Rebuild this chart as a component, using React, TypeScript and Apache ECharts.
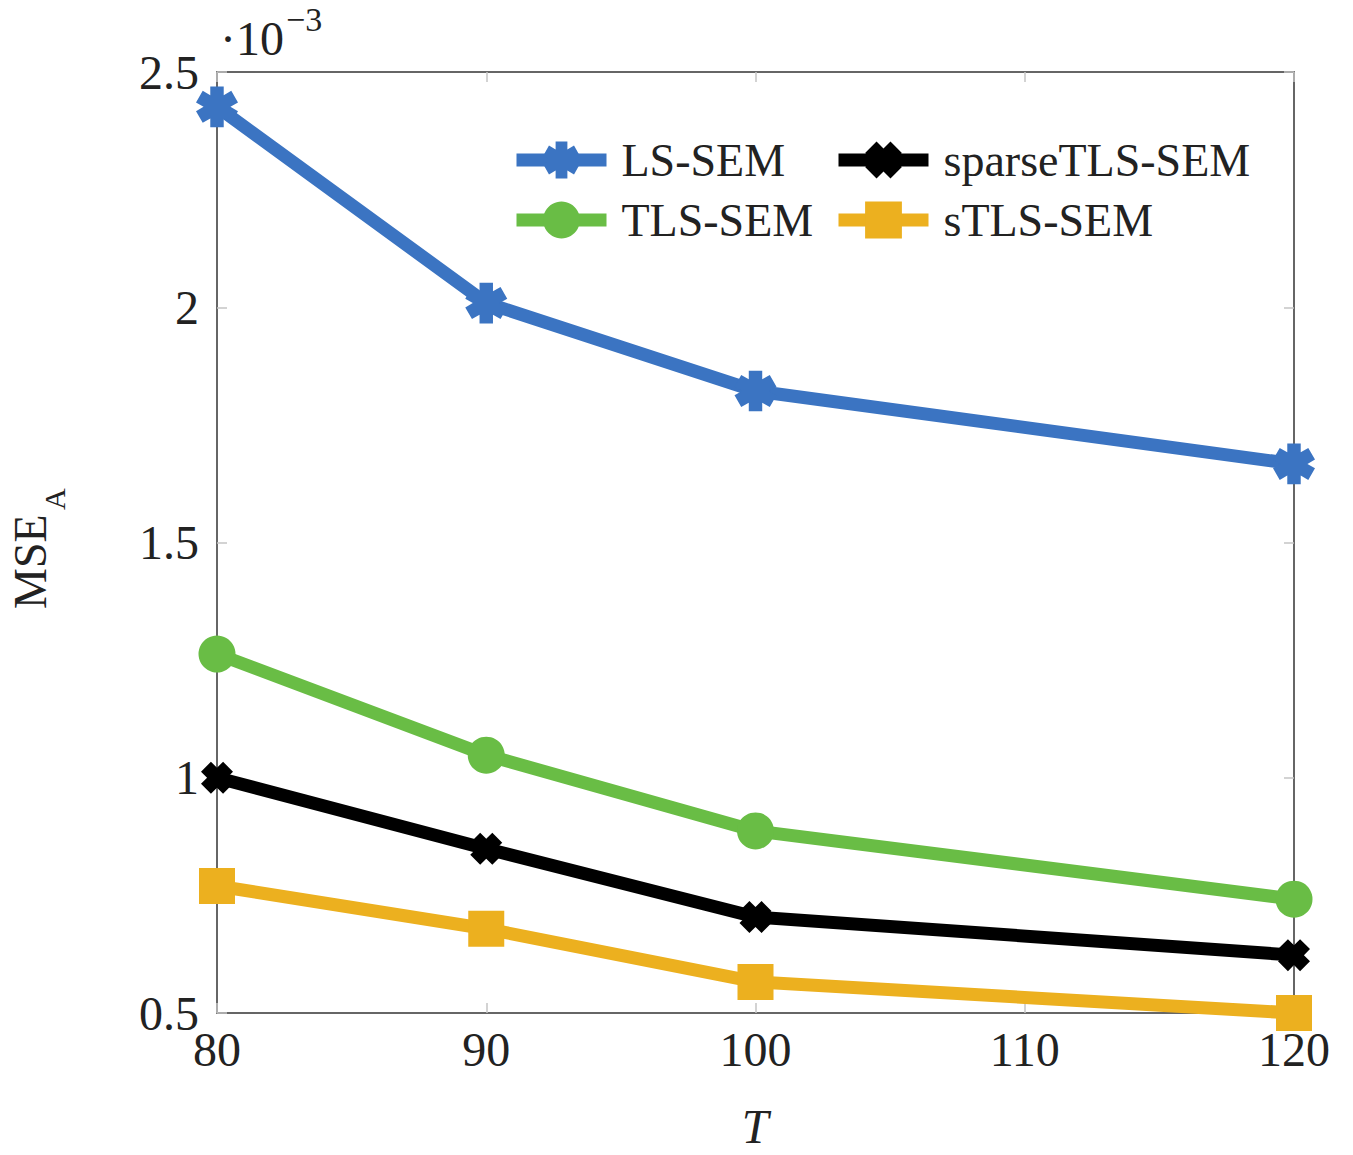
import React, { useEffect, useRef } from "react";
import * as echarts from "echarts";

const tValues = [80, 90, 100, 120];
const lsSem = [2.426, 2.009, 1.822, 1.667];
const tlsSem = [1.263, 1.048, 0.887, 0.742];
const sparseTlsSem = [1.0, 0.849, 0.704, 0.623];
const sTlsSem = [0.77, 0.679, 0.566, 0.5];
const xTicks = [80, 90, 100, 110, 120];
const yTicks = [0.5, 1, 1.5, 2, 2.5];

const FONT = "'Liberation Serif', 'Times New Roman', serif";

function starPath(n: number, r: number, w: number, startDeg: number): string {
  const pts: string[] = [];
  const half = Math.PI / n;
  for (let k = 0; k < n; k++) {
    const t = (startDeg * Math.PI) / 180 + (k * 2 * Math.PI) / n;
    const ux = Math.cos(t), uy = Math.sin(t);
    const nx = -Math.sin(t), ny = Math.cos(t);
    pts.push(`${(r * ux - w * nx).toFixed(4)} ${(r * uy - w * ny).toFixed(4)}`);
    pts.push(`${(r * ux + w * nx).toFixed(4)} ${(r * uy + w * ny).toFixed(4)}`);
    const ri = w / Math.sin(half);
    const ti = t + half;
    pts.push(`${(ri * Math.cos(ti)).toFixed(4)} ${(ri * Math.sin(ti)).toFixed(4)}`);
  }
  return "path://M" + pts.join(" L") + " Z";
}

const asterisk = starPath(6, 1, 0.33, 90);
const crossX = starPath(4, 1, 0.45, 45);

export default function App() {
  const ref = useRef<HTMLDivElement>(null);
  useEffect(() => {
    if (!ref.current) return;
    const chart = echarts.init(ref.current, null, { renderer: "svg" });
    const tickStyle = { inside: true, length: 10, lineStyle: { color: "#c4c4c4", width: 1.5 } };
    const axisLine = { show: true, lineStyle: { color: "#333", width: 1.5 } };
    const mk = (name: string, vals: number[], color: string, symbol: string, size: number) => ({
      name,
      type: "line",
      data: tValues.map((t, i) => [t, vals[i]]),
      symbol,
      symbolSize: size,
      symbolKeepAspect: true,
      clip: false,
      lineStyle: { color, width: 13 },
      itemStyle: { color, borderWidth: 0 },
      emphasis: { disabled: true },
    });
    const legendBase = {
      orient: "vertical",
      top: 137,
      padding: 0,
      itemWidth: 90,
      itemHeight: 46,
      itemGap: 14,
      selectedMode: false,
      lineStyle: { width: 13 },
      textStyle: { fontFamily: FONT, fontSize: 46, color: "#222", padding: [0, 0, 0, 10] },
    };
    chart.setOption({
      animation: false,
      backgroundColor: "#fff",
      grid: { left: 217, right: 59, top: 72, bottom: 142, containLabel: false },
      legend: [
        { ...legendBase, left: 510, data: ["LS-SEM", "TLS-SEM"] },
        { ...legendBase, left: 832, data: ["sparseTLS-SEM", "sTLS-SEM"] },
      ],
      xAxis: [
        {
          type: "value",
          position: "bottom",
          min: xTicks[0],
          max: xTicks[xTicks.length - 1],
          interval: 10,
          axisLine,
          axisTick: tickStyle,
          splitLine: { show: false },
          axisLabel: { fontFamily: FONT, fontSize: 48, color: "#222", margin: 12 },
        },
        {
          type: "value",
          position: "top",
          min: xTicks[0],
          max: xTicks[xTicks.length - 1],
          interval: 10,
          axisLine,
          axisTick: tickStyle,
          splitLine: { show: false },
          axisLabel: { show: false },
        },
      ],
      yAxis: [
        {
          type: "value",
          position: "left",
          min: yTicks[0],
          max: yTicks[yTicks.length - 1],
          interval: 0.5,
          axisLine,
          axisTick: tickStyle,
          splitLine: { show: false },
          axisLabel: {
            fontFamily: FONT,
            fontSize: 48,
            color: "#222",
            margin: 18,
            formatter: (v: number) => String(v),
          },
        },
        {
          type: "value",
          position: "right",
          min: yTicks[0],
          max: yTicks[yTicks.length - 1],
          interval: 0.5,
          axisLine,
          axisTick: tickStyle,
          splitLine: { show: false },
          axisLabel: { show: false },
        },
      ],
      series: [
        mk("LS-SEM", lsSem, "#3b74c2", asterisk, 42),
        mk("TLS-SEM", tlsSem, "#69bd45", "circle", 37),
        mk("sparseTLS-SEM", sparseTlsSem, "#000000", crossX, 32),
        mk("sTLS-SEM", sTlsSem, "#ecb01f", "rect", 36),
      ],
      graphic: [
        {
          type: "text",
          left: 220,
          top: 14,
          style: { text: "·10", fontFamily: FONT, fontSize: 48, fill: "#222" },
        },
        {
          type: "text",
          left: 286,
          top: 2,
          style: { text: "−3", fontFamily: FONT, fontSize: 34, fill: "#222" },
        },
        {
          type: "group",
          x: 30,
          y: 545,
          rotation: Math.PI / 2,
          children: [
            {
              type: "text",
              x: -64,
              y: 0,
              style: {
                text: "MSE",
                fontFamily: FONT,
                fontSize: 46,
                fill: "#222",
                textAlign: "left",
                textVerticalAlign: "middle",
              },
            },
            {
              type: "text",
              x: 35,
              y: 24,
              style: {
                text: "A",
                fontFamily: FONT,
                fontSize: 30,
                fill: "#222",
                textAlign: "left",
                textVerticalAlign: "middle",
              },
            },
          ],
        },
        {
          type: "text",
          x: 755,
          y: 1126,
          style: {
            text: "T",
            fontFamily: FONT,
            fontStyle: "italic",
            fontSize: 48,
            fill: "#222",
            textAlign: "center",
            textVerticalAlign: "middle",
          },
        },
      ],
    });
    return () => chart.dispose();
  }, []);
  return (
    <div
      ref={ref}
      style={{ position: "fixed", left: 0, top: 0, width: 1353, height: 1155, background: "#fff" }}
    />
  );
}
